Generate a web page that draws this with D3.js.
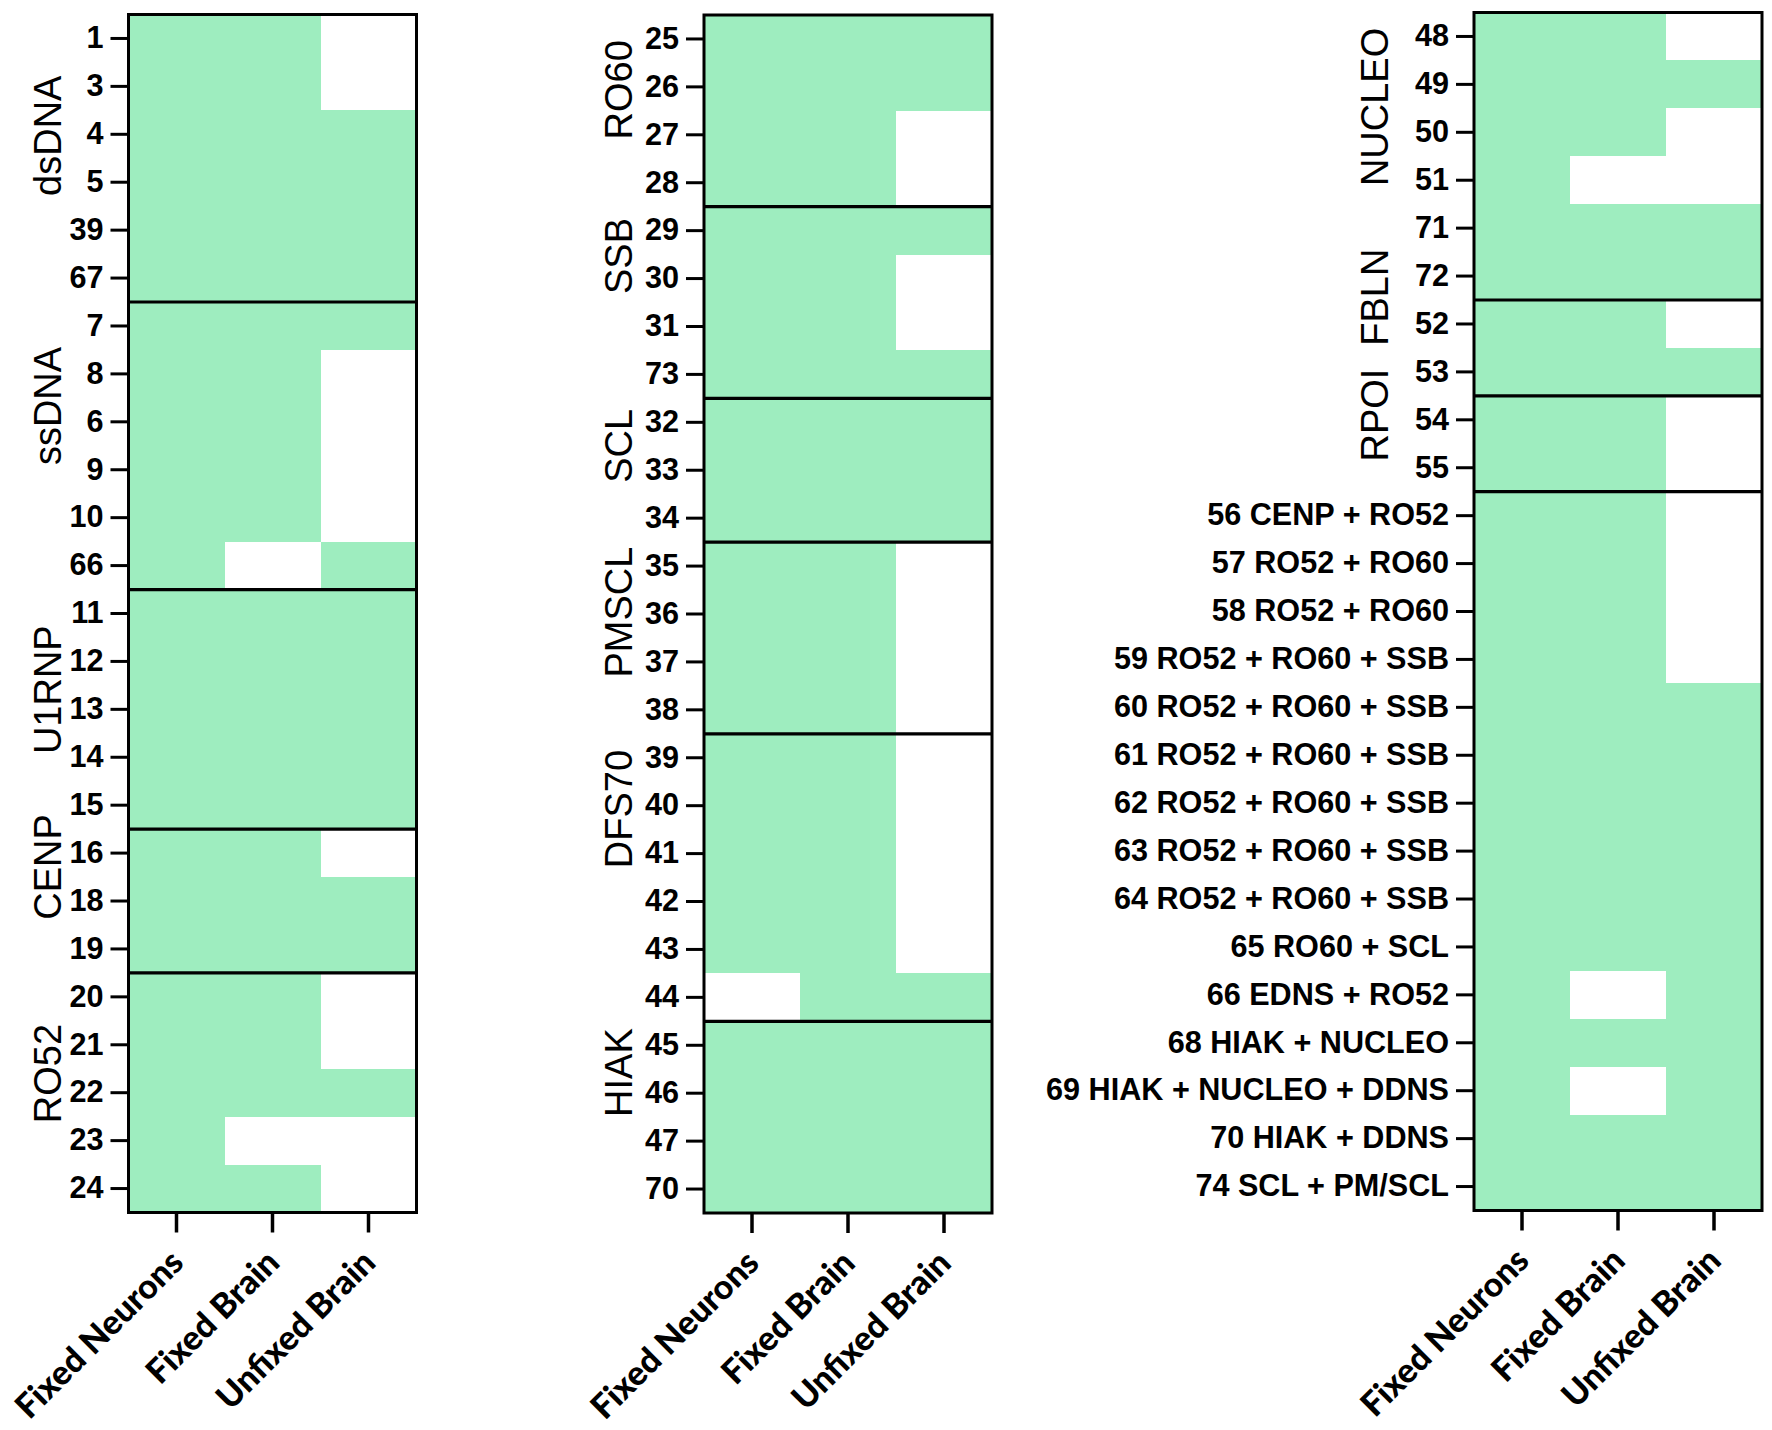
<!DOCTYPE html>
<html>
<head>
<meta charset="utf-8">
<script src="https://cdn.jsdelivr.net/npm/d3@7"></script>
<style>
  body { margin: 0; background: #fff; }
</style>
</head>
<body>
<div class="board"></div>
<script>
var samples = ['Fixed Neurons', 'Fixed Brain', 'Unfixed Brain'];

// left panel
var rowsA = ['1','3','4','5','39','67','7','8','6','9','10','66','11','12','13','14','15','16','18','19','20','21','22','23','24'];
var hitsA = [
  [1,1,0],[1,1,0],[1,1,1],[1,1,1],[1,1,1],[1,1,1],
  [1,1,1],[1,1,0],[1,1,0],[1,1,0],[1,1,0],[1,0,1],
  [1,1,1],[1,1,1],[1,1,1],[1,1,1],[1,1,1],
  [1,1,0],[1,1,1],[1,1,1],
  [1,1,0],[1,1,0],[1,1,1],[1,0,0],[1,1,0]
];
var groupsA = ['dsDNA', 'ssDNA', 'U1RNP', 'CENP', 'RO52'];
var groupSizesA = [6, 6, 5, 3, 5];

// middle panel
var rowsB = ['25','26','27','28','29','30','31','73','32','33','34','35','36','37','38','39','40','41','42','43','44','45','46','47','70'];
var hitsB = [
  [1,1,1],[1,1,1],[1,1,0],[1,1,0],
  [1,1,1],[1,1,0],[1,1,0],[1,1,1],
  [1,1,1],[1,1,1],[1,1,1],
  [1,1,0],[1,1,0],[1,1,0],[1,1,0],
  [1,1,0],[1,1,0],[1,1,0],[1,1,0],[1,1,0],[0,1,1],
  [1,1,1],[1,1,1],[1,1,1],[1,1,1]
];
var groupsB = ['RO60', 'SSB', 'SCL', 'PMSCL', 'DFS70', 'HIAK'];
var groupSizesB = [4, 4, 3, 4, 6, 4];

// right panel
var rowsC = ['48','49','50','51','71','72','52','53','54','55',
  '56 CENP + RO52','57 RO52 + RO60','58 RO52 + RO60','59 RO52 + RO60 + SSB',
  '60 RO52 + RO60 + SSB','61 RO52 + RO60 + SSB','62 RO52 + RO60 + SSB',
  '63 RO52 + RO60 + SSB','64 RO52 + RO60 + SSB','65 RO60 + SCL',
  '66 EDNS + RO52','68 HIAK + NUCLEO','69 HIAK + NUCLEO + DDNS',
  '70 HIAK + DDNS','74 SCL + PM/SCL'];
var hitsC = [
  [1,1,0],[1,1,1],[1,1,0],[1,0,0],[1,1,1],[1,1,1],
  [1,1,0],[1,1,1],
  [1,1,0],[1,1,0],
  [1,1,0],[1,1,0],[1,1,0],[1,1,0],[1,1,1],[1,1,1],[1,1,1],
  [1,1,1],[1,1,1],[1,1,1],[1,0,1],[1,1,1],[1,0,1],[1,1,1],[1,1,1]
];
var groupsC = ['NUCLEO', 'FBLN', 'RPOI', ''];
var groupSizesC = [6, 2, 2, 15];

var green = '#9eedbf';
var cellW = 288, cellH = 1198;

// where each side label sits, in row units (the figure does not centre them)
var panels = [
  {left: 128.5, top: 14.5, rows: rowsA, hits: hitsA, groups: groupsA, sizes: groupSizesA,
   labelAt: [2.53, 8.17, 14.09, 17.79, 22.1], labelX: -68},
  {left: 704, top: 15, rows: rowsB, hits: hitsB, groups: groupsB, sizes: groupSizesB,
   labelAt: [1.56, 5.03, 8.99, 12.46, 16.57, 22.07], labelX: -72},
  {left: 1474, top: 12.5, rows: rowsC, hits: hitsC, groups: groupsC, sizes: groupSizesC,
   labelAt: [1.97, 5.94, 8.4, 0], labelX: -86}
];

var svg = d3.select('.board').append('svg:svg')
  .attr('width', 1772)
  .attr('height', 1430);

panels.forEach(function(p) {
  var g = svg.append('g').attr('transform', 'translate(' + p.left + ',' + p.top + ')');

  var x = d3.scaleBand().domain(samples).range([0, cellW]);
  var y = d3.scaleBand().domain(p.rows).range([0, cellH]);
  var yPos = d3.scaleLinear().domain([0, p.rows.length]).range([0, cellH]);

  // cells
  p.hits.forEach(function(row, i) {
    g.selectAll(null).data(row).enter().append('rect')
      .attr('x', function(d, j) { return x(samples[j]); })
      .attr('y', y(p.rows[i]))
      .attr('width', x.bandwidth() + 0.5)
      .attr('height', y.bandwidth() + 0.5)
      .attr('fill', function(d) { return d ? green : '#fff'; })
      .attr('shape-rendering', 'crispEdges');
  });

  // group dividers
  var cum = d3.cumsum(p.sizes);
  g.selectAll('.divider').data(Array.from(cum).slice(0, -1)).enter().append('line')
    .attr('class', 'divider')
    .attr('x1', 0).attr('x2', cellW)
    .attr('y1', function(d) { return y(p.rows[d]); })
    .attr('y2', function(d) { return y(p.rows[d]); })
    .attr('stroke', '#000').attr('stroke-width', 3.2);

  // y axis
  var ya = g.append('g').call(d3.axisLeft(y).tickSize(18).tickPadding(7));
  ya.select('.domain').remove();
  ya.selectAll('.tick line').attr('stroke', '#000').attr('stroke-width', 3);
  ya.selectAll('.tick text')
    .attr('fill', '#000')
    .style('font-family', '"Liberation Sans", Arial, sans-serif')
    .style('font-weight', 'bold')
    .style('font-size', '30.6px');

  // x axis
  var xa = g.append('g').attr('transform', 'translate(0,' + cellH + ')')
    .call(d3.axisBottom(x).tickSize(20));
  xa.select('.domain').remove();
  xa.selectAll('.tick line').attr('stroke', '#000').attr('stroke-width', 3.5);
  xa.selectAll('.tick text')
    .attr('x', 0).attr('y', 0).attr('dy', 0)
    .attr('transform', 'translate(9,52) rotate(-45)')
    .attr('fill', '#000')
    .style('text-anchor', 'end')
    .style('font-family', 'Lato, "Open Sans", sans-serif')
    .style('font-weight', '900')
    .style('font-size', '34px');

  // side labels
  g.selectAll('.glabel').data(p.groups).enter().append('text')
    .attr('class', 'glabel')
    .attr('transform', function(d, i) {
      return 'translate(' + p.labelX + ',' + yPos(p.labelAt[i]) + ') rotate(-90)';
    })
    .attr('text-anchor', 'middle')
    .style('font-family', '"Liberation Sans", Arial, sans-serif')
    .style('font-size', '38px')
    .text(function(d) { return d; });

  g.append('rect')
    .attr('width', cellW).attr('height', cellH)
    .attr('fill', 'none').attr('stroke', '#000').attr('stroke-width', 3);
});
</script>
</body>
</html>
